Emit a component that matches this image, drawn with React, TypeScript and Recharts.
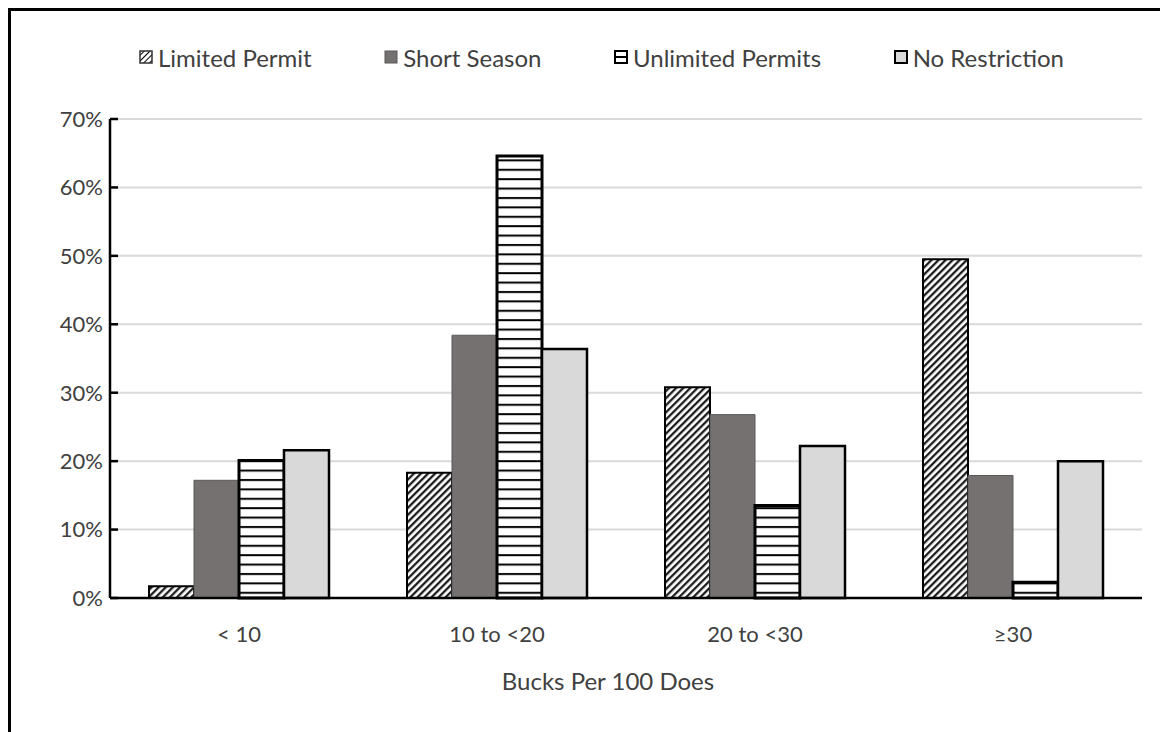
import React from 'react';
import { BarChart, Bar, XAxis, YAxis, CartesianGrid } from 'recharts';

const categories = ['< 10', '10 to <20', '20 to <30', '≥30'];
const limitedPermit = [1.7, 18.3, 30.8, 49.5];
const shortSeason = [17.2, 38.4, 26.8, 17.9];
const unlimitedPermits = [20.1, 64.6, 13.5, 2.3];
const noRestriction = [21.6, 36.4, 22.2, 20.0];
const yTicks = [0, 10, 20, 30, 40, 50, 60, 70];

const seriesNames = ['Limited Permit', 'Short Season', 'Unlimited Permits', 'No Restriction'];

const data = categories.map((c, i) => ({
  category: c,
  limited: limitedPermit[i],
  short: shortSeason[i],
  unlimited: unlimitedPermits[i],
  none: noRestriction[i],
}));

const FONT = 'Lato, "Open Sans", sans-serif';
const TEXT = '#404040';

// legend swatches, drawn as tiny svgs
const Swatch: React.FC<{ kind: number }> = ({ kind }) => (
  <svg width={14} height={14} style={{ display: 'block' }}>
    <defs>
      <pattern id="lg-diag" width={4} height={4} patternUnits="userSpaceOnUse" patternTransform="rotate(45)">
        <rect width={4} height={4} fill="#fff" />
        <line x1={0} y1={0} x2={0} y2={4} stroke="#000" strokeWidth={2} />
      </pattern>
    </defs>
    {kind === 0 && <rect x={1} y={1} width={12} height={12} fill="url(#lg-diag)" stroke="#333" strokeWidth={1.5} />}
    {kind === 1 && <rect x={1} y={1} width={12} height={12} fill="#757171" stroke="#595959" strokeWidth={1} />}
    {kind === 2 && (
      <g>
        <rect x={1} y={1} width={12} height={12} fill="#fff" stroke="#000" strokeWidth={2} />
        <line x1={1} y1={7} x2={13} y2={7} stroke="#000" strokeWidth={2} />
      </g>
    )}
    {kind === 3 && <rect x={1} y={1} width={12} height={12} fill="#d9d9d9" stroke="#000" strokeWidth={2} />}
  </svg>
);

export default function App() {
  return (
    <div style={{ position: 'relative', width: 1160, height: 724, background: '#fff', fontFamily: FONT }}>
      <div
        style={{
          position: 'absolute',
          left: 0,
          top: 0,
          width: 1160,
          height: 724,
          borderLeft: '3px solid #000',
          borderTop: '3px solid #000',
          boxSizing: 'border-box',
          pointerEvents: 'none',
          zIndex: 2,
        }}
      />
      {/* Legend */}
      <div
        style={{
          position: 'absolute',
          left: 131,
          top: 34,
          width: 925,
          height: 30,
          display: 'flex',
          justifyContent: 'space-between',
          alignItems: 'center',
          fontSize: 24,
          color: TEXT,
          whiteSpace: 'nowrap',
        }}
      >
        {seriesNames.map((name, i) => (
          <div key={name} style={{ display: 'flex', alignItems: 'center', gap: 5 }}>
            <Swatch kind={i} />
            <span>{name}</span>
          </div>
        ))}
      </div>
      <BarChart
        width={1160}
        height={724}
        data={data}
        margin={{ top: 111, right: 26, left: 2, bottom: 34 }}
        barCategoryGap={39}
        barGap={0}
      >
        <defs>
          <pattern id="diag" width={5} height={5} patternUnits="userSpaceOnUse" patternTransform="rotate(45)">
            <rect width={5} height={5} fill="#fff" />
            <line x1={1.2} y1={0} x2={1.2} y2={5} stroke="#111" strokeWidth={2.2} />
          </pattern>
          <pattern id="hstripe" width={10} height={9.4} patternUnits="userSpaceOnUse">
            <rect width={10} height={9.4} fill="#fff" />
            <line x1={0} y1={2} x2={10} y2={2} stroke="#000" strokeWidth={2} />
          </pattern>
        </defs>
        <CartesianGrid vertical={false} stroke="#d9d9d9" strokeWidth={2} />
        <XAxis
          dataKey="category"
          height={100}
          stroke="#000"
          strokeWidth={2.5}
          tickLine={false}
          tickSize={0}
          tickMargin={28}
          tick={{ fill: TEXT, fontSize: 22, fontFamily: FONT }}
          label={{
            value: 'Bucks Per 100 Does',
            position: 'insideBottom',
            offset: 8,
            dx: -18,
            fill: TEXT,
            fontSize: 24,
            fontFamily: FONT,
          }}
        />
        <YAxis
          width={100}
          domain={[0, 70]}
          ticks={yTicks}
          interval={0}
          stroke="#000"
          strokeWidth={2.5}
          tickSize={-8}
          tickMargin={15}
          tickFormatter={(v: number) => `${v}%`}
          tick={{ fill: TEXT, fontSize: 22, fontFamily: FONT }}
        />
        <Bar dataKey="limited" fill="url(#diag)" stroke="#000" strokeWidth={2} isAnimationActive={false} />
        <Bar dataKey="short" fill="#757171" stroke="#595959" strokeWidth={1} isAnimationActive={false} />
        <Bar dataKey="unlimited" fill="url(#hstripe)" stroke="#000" strokeWidth={3} isAnimationActive={false} />
        <Bar dataKey="none" fill="#d9d9d9" stroke="#000" strokeWidth={2.5} isAnimationActive={false} />
      </BarChart>
    </div>
  );
}
